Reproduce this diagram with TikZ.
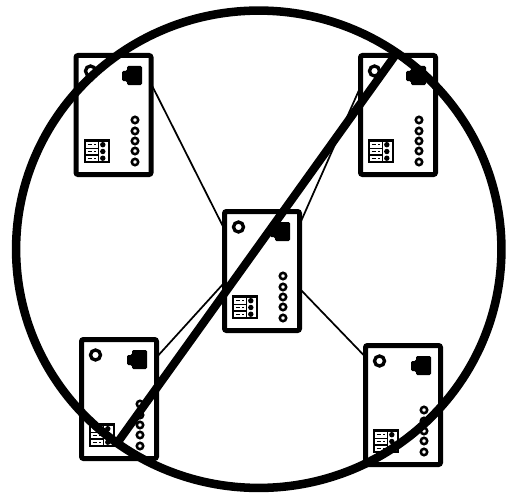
\documentclass[tikz,border=0pt]{standalone}
\usetikzlibrary{shapes.geometric}
\begin{document}
\begin{tikzpicture}[x=0.75pt,y=-0.75pt,
  devbox/.style={draw=black,fill=white,line width=3.75pt,rounded corners=1.5pt,minimum width=56.25pt,minimum height=89.25pt,inner sep=0pt,outer sep=0pt},
  link/.style={draw=black,line width=1.3pt},
  ringled/.style={draw=black,line width=1.9pt,fill=white},
  bigring/.style={draw=black,line width=2.5pt,fill=white},
  device/.pic={
    \draw[bigring] (15.5,17) circle (5);
    \fill[black,rounded corners=1pt] (47,17) -- (52,17) -- (52,12) -- (67,12) -- (67,31) -- (52,31) -- (52,27) -- (47,27) -- cycle;
    \foreach \ly in {66,77,87,97,108} \draw[ringled] (60,\ly) circle (3.2);
    \fill[black] (9,85) rectangle (35,109);
    \fill[white] (24,88) rectangle (32.5,106.5);
    \foreach \ry in {88,94.8,101.5} {
      \fill[white] (11,\ry) rectangle (22.5,\ry+5.5);
      \draw[black,line width=0.5pt,densely dashed] (12.5,\ry+2.7) -- (21,\ry+2.7);
      \fill[black] (27.8,\ry+2.7) circle (2.7);
    }
  }]
\useasboundingbox (0,0) rectangle (506,492);
\fill[white] (0,0) rectangle (506,492);
\node[devbox] (c)  at (262,271) {};
\node[devbox] (tl) at (113.5,115) {};
\node[devbox] (tr) at (398,115) {};
\node[devbox] (bl) at (119,399) {};
\node[devbox] (br) at (403,405) {};
\draw[link] (c.132) -- (tl.40);
\draw[link] (c.51) -- (tr.143);
\draw[link] (c.-163) -- (bl.48);
\draw[link] (c.-25) -- (br.128);
\pic at (223,210) {device};
\pic at (75,54) {device};
\pic at (359,54) {device};
\pic at (80,338) {device};
\pic at (364,344) {device};
\node[draw=black,line width=6.4pt,ellipse,minimum width=364pt,minimum height=358pt,inner sep=0pt,outer sep=0pt] (ring) at (258.75,249.25) {};
\coordinate (s1) at (399,50);
\coordinate (s2) at (115,446);
\draw[black,line width=6.2pt] (s1) -- (s2);
\end{tikzpicture}
\end{document}
